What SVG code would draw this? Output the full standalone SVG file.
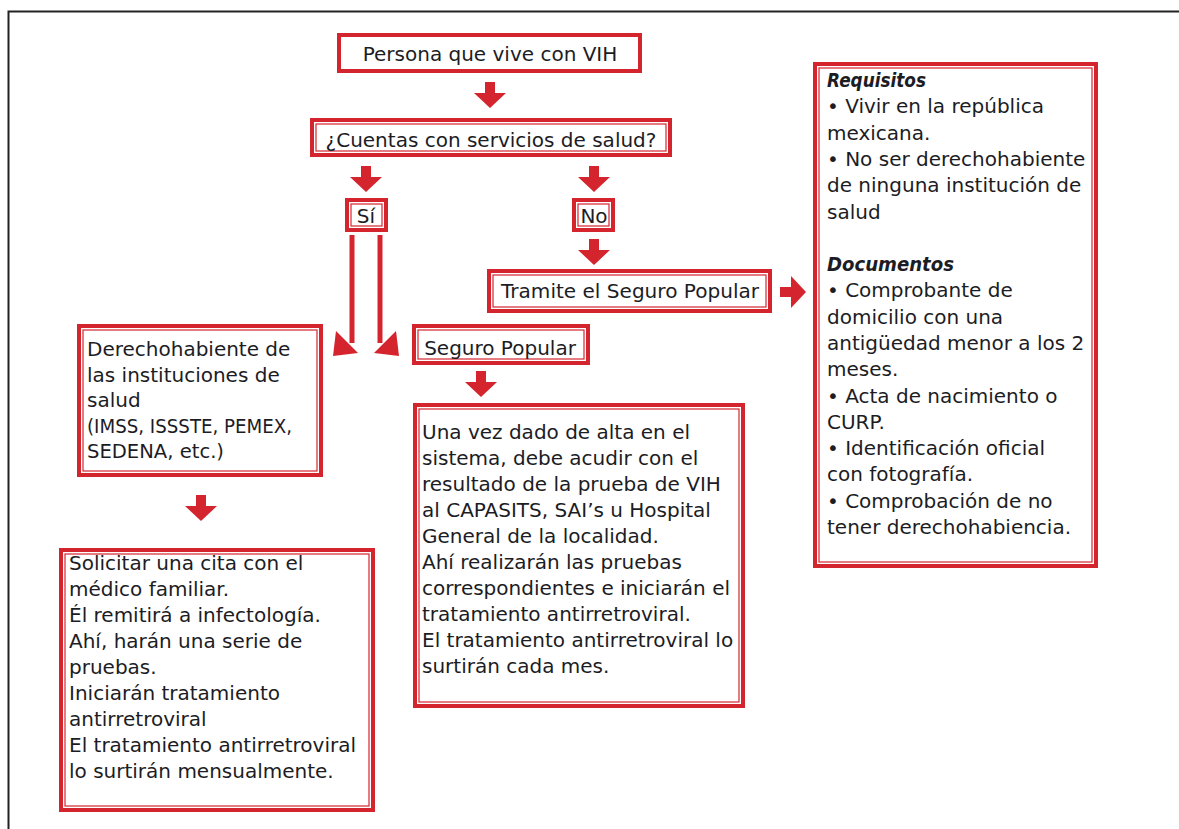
<svg xmlns="http://www.w3.org/2000/svg" xmlns:xlink="http://www.w3.org/1999/xlink" width="1179" height="829" viewBox="0 0 1179 829">
<style>
.t{font-family:"DejaVu Sans","Liberation Sans",sans-serif;font-size:20px;fill:#1c1c24}
.c{text-anchor:middle}
.b{font-weight:bold;font-style:italic}
.o{fill:#fff;stroke:#d4252e;stroke-width:4}
.i{fill:none;stroke:#d4252e;stroke-width:1.2}
.ar{fill:#d4252e}
.ln{stroke:#d4252e;stroke-width:5;fill:none}
</style>
<defs>
<path id="arw" d="M-5,0 H5 V11 H16 L0,26 L-16,11 H-5 Z"/>
</defs>
<rect width="1179" height="829" fill="#fff"/>
<path d="M8.5,829 V11.5 H1179" fill="none" stroke="#222" stroke-width="2"/>

<g id="connectors">
<use href="#arw" class="ar" transform="translate(490,82)"/>
<use href="#arw" class="ar" transform="translate(366,166)"/>
<use href="#arw" class="ar" transform="translate(594,166)"/>
<use href="#arw" class="ar" transform="translate(594,239)"/>
<use href="#arw" class="ar" transform="translate(780,292) rotate(-90)"/>
<use href="#arw" class="ar" transform="translate(481,371)"/>
<use href="#arw" class="ar" transform="translate(201,495)"/>
<path class="ln" d="M352,235 V343"/>
<polygon class="ar" points="336,331 358,353 333,356"/>
<path class="ln" d="M380,235 V343"/>
<polygon class="ar" points="396,331 374,353 399,356"/>
</g>

<g id="n-persona">
<rect class="o" x="339" y="35" width="301" height="36"/>
<text class="t c" x="490" y="61">Persona que vive con VIH</text>
</g>

<g id="n-cuentas">
<rect class="o" x="312" y="120" width="358" height="35"/>
<rect class="i" x="316" y="124" width="350" height="27"/>
<text class="t c" x="491" y="147">¿Cuentas con servicios de salud?</text>
</g>

<g id="n-si">
<rect class="o" x="347" y="200" width="39" height="30"/>
<rect class="i" x="351" y="204" width="31" height="22"/>
<text class="t c" x="366" y="223">Sí</text>
</g>

<g id="n-no">
<rect class="o" x="574" y="200" width="39" height="30"/>
<rect class="i" x="578" y="204" width="31" height="22"/>
<text class="t c" x="594" y="223">No</text>
</g>

<g id="n-tramite">
<rect class="o" x="489" y="271" width="281" height="40"/>
<rect class="i" x="493" y="275" width="273" height="32"/>
<text class="t c" x="630" y="298" textLength="258" lengthAdjust="spacingAndGlyphs">Tramite el Seguro Popular</text>
</g>

<g id="n-seguro">
<rect class="o" x="414" y="326" width="174" height="37"/>
<rect class="i" x="418" y="330" width="166" height="29"/>
<text class="t c" x="500" y="355">Seguro Popular</text>
</g>

<g id="n-derecho">
<rect class="o" x="79" y="326" width="242" height="149"/>
<rect class="i" x="83" y="330" width="234" height="141"/>
<text class="t" x="87" y="356">Derechohabiente de<tspan x="87" dy="25.5">las instituciones de</tspan><tspan x="87" dy="25.5">salud</tspan><tspan x="87" dy="25.5" textLength="205" lengthAdjust="spacingAndGlyphs">(IMSS, ISSSTE, PEMEX,</tspan><tspan x="87" dy="25.5" textLength="137" lengthAdjust="spacingAndGlyphs">SEDENA, etc.)</tspan></text>
</g>

<g id="n-solicitar">
<rect class="o" x="61" y="550" width="312" height="260"/>
<rect class="i" x="65" y="554" width="304" height="252"/>
<text class="t" x="69" y="570">Solicitar una cita con el<tspan x="69" dy="26">médico familiar.</tspan><tspan x="69" dy="26">Él remitirá a infectología.</tspan><tspan x="69" dy="26">Ahí, harán una serie de</tspan><tspan x="69" dy="26">pruebas.</tspan><tspan x="69" dy="26">Iniciarán tratamiento</tspan><tspan x="69" dy="26">antirretroviral</tspan><tspan x="69" dy="26">El tratamiento antirretroviral</tspan><tspan x="69" dy="26">lo surtirán mensualmente.</tspan></text>
</g>

<g id="n-unavez">
<rect class="o" x="415" y="405" width="328" height="301"/>
<rect class="i" x="419" y="409" width="320" height="293"/>
<text class="t" x="422" y="439">Una vez dado de alta en el<tspan x="422" dy="26">sistema, debe acudir con el</tspan><tspan x="422" dy="26">resultado de la prueba de VIH</tspan><tspan x="422" dy="26">al CAPASITS, SAI’s u Hospital</tspan><tspan x="422" dy="26">General de la localidad.</tspan><tspan x="422" dy="26">Ahí realizarán las pruebas</tspan><tspan x="422" dy="26">correspondientes e iniciarán el</tspan><tspan x="422" dy="26">tratamiento antirretroviral.</tspan><tspan x="422" dy="26">El tratamiento antirretroviral lo</tspan><tspan x="422" dy="26">surtirán cada mes.</tspan></text>
</g>

<g id="n-requisitos">
<rect class="o" x="815" y="64" width="281" height="502"/>
<rect class="i" x="819" y="68" width="273" height="494"/>
<text class="t" x="827" y="87"><tspan class="b" textLength="99" lengthAdjust="spacingAndGlyphs">Requisitos</tspan><tspan x="827" dy="26.3">• Vivir en la república</tspan><tspan x="827" dy="26.3">mexicana.</tspan><tspan x="827" dy="26.3">• No ser derechohabiente</tspan><tspan x="827" dy="26.3">de ninguna institución de</tspan><tspan x="827" dy="26.3">salud</tspan><tspan x="827" dy="52.6" class="b" textLength="127" lengthAdjust="spacingAndGlyphs">Documentos</tspan><tspan x="827" dy="26.3">• Comprobante de</tspan><tspan x="827" dy="26.3">domicilio con una</tspan><tspan x="827" dy="26.3">antigüedad menor a los 2</tspan><tspan x="827" dy="26.3">meses.</tspan><tspan x="827" dy="26.3">• Acta de nacimiento o</tspan><tspan x="827" dy="26.3">CURP.</tspan><tspan x="827" dy="26.3">• Identificación oficial</tspan><tspan x="827" dy="26.3">con fotografía.</tspan><tspan x="827" dy="26.3">• Comprobación de no</tspan><tspan x="827" dy="26.3">tener derechohabiencia.</tspan></text>
</g>
</svg>
